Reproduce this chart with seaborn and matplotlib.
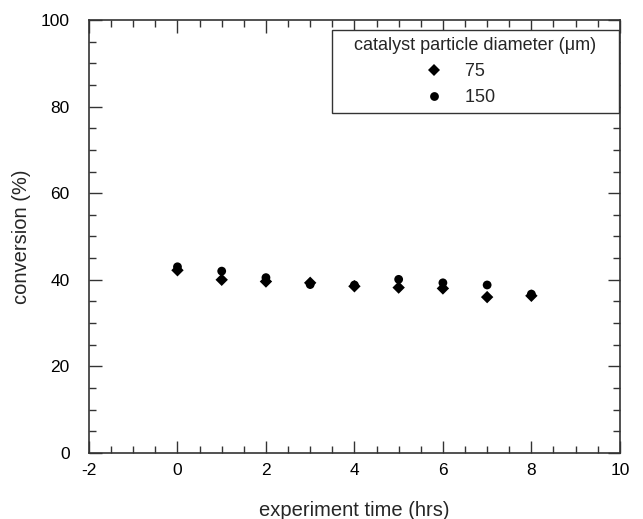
import numpy as np
import pandas as pd
import matplotlib.pyplot as plt
import matplotlib as mpl
from matplotlib.ticker import MultipleLocator
import seaborn as sns

time_hrs = [0, 1, 2, 3, 4, 5, 6, 7, 8]
conv_75 = [42.2, 40.0, 39.6, 39.3, 38.5, 38.2, 38.0, 36.0, 36.3]
conv_150 = [43.0, 42.0, 40.5, 38.9, 38.8, 40.1, 39.3, 38.8, 36.7]

df = pd.DataFrame({
    'time': time_hrs + time_hrs,
    'conversion': conv_75 + conv_150,
    'diameter': ['75'] * len(time_hrs) + ['150'] * len(time_hrs),
})

sns.set_style('ticks')
plt.rcParams['font.family'] = ['Liberation Sans', 'DejaVu Sans']
plt.rcParams['axes.unicode_minus'] = False

fig = plt.figure(figsize=(6.43, 5.19), dpi=100)
ax = fig.add_axes([0.1384, 0.1272, 0.8256, 0.8343])

sns.scatterplot(data=df, x='time', y='conversion', style='diameter',
                markers={'75': 'D', '150': 'o'}, color='black',
                s=40, edgecolor='black', linewidth=0, ax=ax)

ax.set_xlim(-2, 10)
ax.set_ylim(0, 100)
ax.xaxis.set_major_locator(MultipleLocator(2))
ax.xaxis.set_minor_locator(MultipleLocator(0.5))
ax.yaxis.set_major_locator(MultipleLocator(20))
ax.yaxis.set_minor_locator(MultipleLocator(5))
ax.tick_params(which='both', direction='in', top=True, right=True,
               labelsize=12.5, width=1, colors='#333333', labelcolor='black')
ax.tick_params(which='major', length=9)
ax.tick_params(which='minor', length=5)
ax.tick_params(axis='x', which='major', pad=7)
ax.tick_params(axis='y', which='major', pad=14)
for sp in ax.spines.values():
    sp.set_color('#333333')
    sp.set_linewidth(1.2)

ax.set_xlabel('experiment time (hrs)', fontsize=14.5, labelpad=17)
ax.set_ylabel('conversion (%)', fontsize=14.5, labelpad=7)

# spaces widen the box and push the entries a bit left of centre, like the original
handles, labels = ax.get_legend_handles_labels()
labels = [l + ' ' * 8 for l in labels]
leg = ax.legend(handles, labels,
                title='   catalyst particle diameter (\u03bcm)   ',
                loc='upper right', bbox_to_anchor=(0.9975, 0.977),
                fontsize=13, title_fontsize=13, frameon=True, fancybox=False,
                edgecolor='#333333', framealpha=1, borderpad=0.4,
                handletextpad=0.72, labelspacing=0.5, borderaxespad=0)
leg.get_frame().set_linewidth(1)
leg._legend_box.align = 'center'

fig.savefig('out.png', dpi=100)
